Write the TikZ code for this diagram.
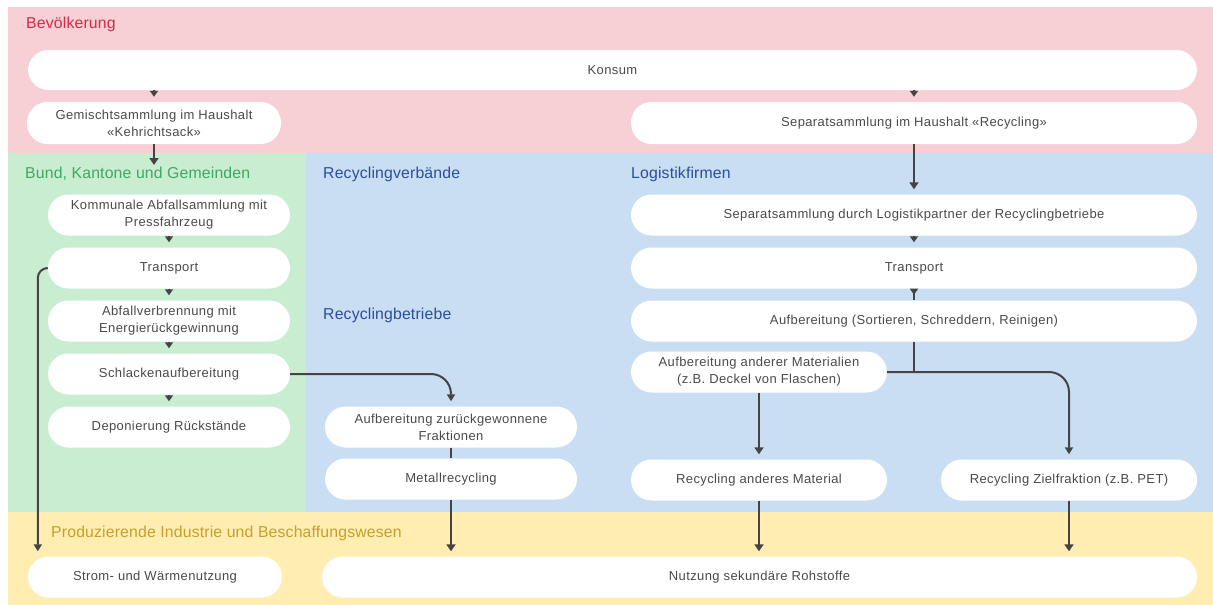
\documentclass[tikz,border=0pt]{standalone}
\usepackage{fontspec}
\setmainfont{Liberation Sans}
\newfontfamily\boxfont[LetterSpace=3]{Liberation Sans}
\newfontfamily\lblfont[LetterSpace=1]{Liberation Sans}
\usetikzlibrary{arrows.meta}
\definecolor{bgpink}{HTML}{F7D0D6}
\definecolor{bggreen}{HTML}{C9EDD1}
\definecolor{bgblue}{HTML}{C9DEF2}
\definecolor{bgyellow}{HTML}{FFEDB2}
\definecolor{lblred}{HTML}{D42A45}
\definecolor{lblgreen}{HTML}{3FA862}
\definecolor{lblblue}{HTML}{2C4E9E}
\definecolor{lblgold}{HTML}{C6A02A}
\definecolor{txt}{HTML}{4A4A4A}
\definecolor{ln}{HTML}{444444}
\begin{document}
\begin{tikzpicture}[x=1pt,y=-1pt,
  box/.style={fill=white, rounded corners=20.5pt, minimum height=41pt, inner sep=0pt,
    align=center, font=\boxfont\fontsize{13}{17.2}\selectfont, text=txt},
  region/.style={anchor=west, inner sep=0pt, font=\lblfont\fontsize{15.8}{18}\selectfont},
  tipS/.style={draw=ln, line width=1.5pt, -{Triangle[width=8pt,length=6pt]}, shorten >=5pt},
  big/.style={draw=ln, line width=2.8pt, -{Triangle[width=9pt,length=7pt]}, shorten >=5pt},
  mid/.style={draw=ln, line width=2pt, -{Triangle[width=8pt,length=7pt]}, shorten >=5pt},
  plain/.style={draw=ln, line width=2pt}
]
\useasboundingbox (0,0) rectangle (1213,605);
% regions
\fill[bgpink] (8,7) rectangle (1213,153);
\fill[bggreen] (8,153) rectangle (306,512);
\fill[bgblue] (306,153) rectangle (1213,512);
\fill[bgyellow] (8,512) rectangle (1213,605);
\node[region, text=lblred] (lBev) at (26,24) {Bevölkerung};
\node[region, text=lblgreen] (lBund) at (25,174) {Bund, Kantone und Gemeinden};
\node[region, text=lblblue] (lVerb) at (323,174) {Recyclingverbände};
\node[region, text=lblblue] (lLog) at (631,174) {Logistikfirmen};
\node[region, text=lblblue] (lBetr) at (323,315) {Recyclingbetriebe};
\node[region, text=lblgold] (lInd) at (51,533) {Produzierende Industrie und Beschaffungswesen};
% boxes
\node[box, minimum width=1169pt, minimum height=40pt] (konsum) at (612.5,70) {Konsum};
\node[box, minimum width=254pt, minimum height=42pt] (gemisch) at (154,123) {Gemischtsammlung im Haushalt\\«Kehrichtsack»};
\node[box, minimum width=566pt, minimum height=42pt] (separat) at (914,123) {Separatsammlung im Haushalt «Recycling»};
\node[box, minimum width=242pt] (komm) at (169,215) {Kommunale Abfallsammlung mit\\Pressfahrzeug};
\node[box, minimum width=242pt] (transL) at (169,268) {Transport};
\node[box, minimum width=242pt] (verbr) at (169,321) {Abfallverbrennung mit\\Energierückgewinnung};
\node[box, minimum width=242pt] (schl) at (169,374) {Schlackenaufbereitung};
\node[box, minimum width=242pt] (depo) at (169,427) {Deponierung Rückstände};
\node[box, minimum width=252pt] (zurueck) at (451,427) {Aufbereitung zurückgewonnene\\Fraktionen};
\node[box, minimum width=252pt] (metall) at (451,479) {Metallrecycling};
\node[box, minimum width=566pt] (sepD) at (914,215) {Separatsammlung durch Logistikpartner der Recyclingbetriebe};
\node[box, minimum width=566pt] (transR) at (914,268) {Transport};
\node[box, minimum width=566pt] (aufb) at (914,321) {Aufbereitung (Sortieren, Schreddern, Reinigen)};
\node[box, minimum width=256pt] (anderer) at (759,372) {Aufbereitung anderer Materialien\\(z.B. Deckel von Flaschen)};
\node[box, minimum width=256pt] (recAnd) at (759,480) {Recycling anderes Material};
\node[box, minimum width=256pt] (ziel) at (1069,480) {Recycling Zielfraktion (z.B. PET)};
\node[box, minimum width=254pt] (strom) at (155,577) {Strom- und Wärmenutzung};
\node[box, minimum width=875pt] (nutz) at (759.5,577) {Nutzung sekundäre Rohstoffe};
% connectors
\coordinate (gEnd) at (154,165);
\draw[tipS] (konsum.south -| gemisch.north) -- (gemisch.north);
\draw[tipS] (konsum.south -| separat.north) -- (separat.north);
\draw[big, shorten >=0pt] (gemisch.south) -- (gEnd);
\draw[big] (separat.south) -- (sepD.north);
\draw[tipS] (komm.south) -- (transL.north);
\draw[tipS] (transL.south) -- (verbr.north);
\draw[tipS] (verbr.south) -- (schl.north);
\draw[tipS] (schl.south) -- (depo.north);
\draw[tipS] (sepD.south) -- (transR.north);
\draw[draw=ln, line width=2.6pt, {Triangle[reversed,width=8pt,length=6pt]}-] (transR.south) -- (aufb.north);
\draw[plain] (aufb.south) -- (aufb.south |- anderer.east);
\draw[mid, rounded corners=20pt] (anderer.east) -| (ziel.north);
\draw[big] (anderer.south) -- (recAnd.north);
\draw[big] (recAnd.south) -- (recAnd.south |- nutz.north);
\draw[big] (ziel.south) -- (ziel.south |- nutz.north);
\draw[mid, rounded corners=20pt] (schl.east) -| (zurueck.north);
\draw[draw=ln, line width=2.8pt] (zurueck.south) -- (metall.north);
\draw[big] (metall.south) -- (metall.south |- nutz.north);
\draw[mid, rounded corners=10pt] (transL.west) -| ([xshift=10pt]strom.north west);
\end{tikzpicture}
\end{document}
